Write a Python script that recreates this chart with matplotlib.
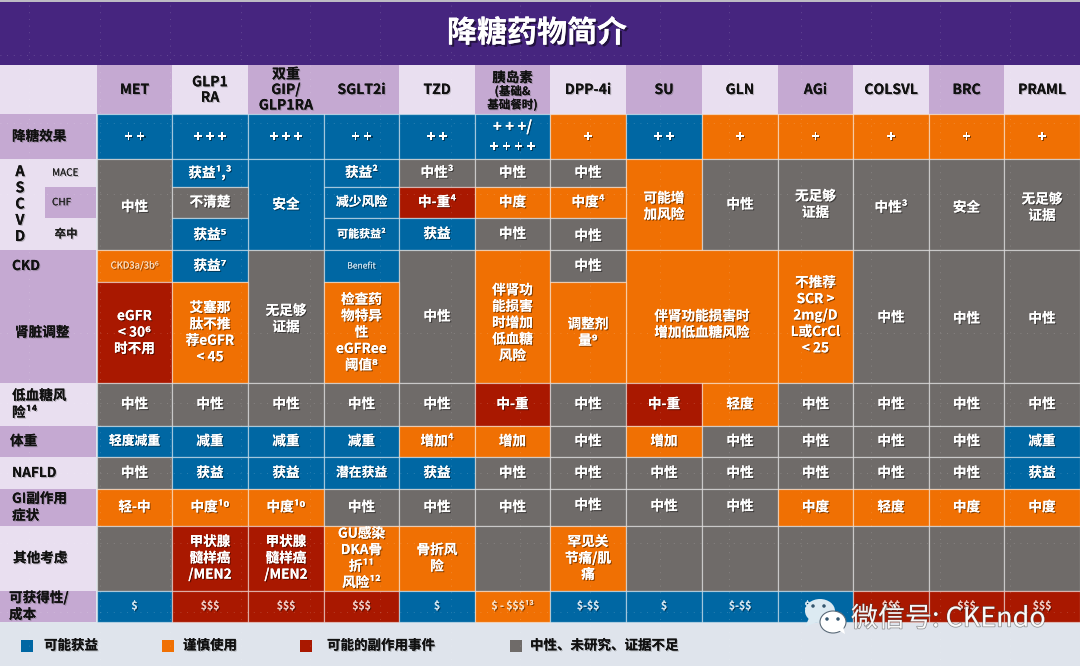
import matplotlib
matplotlib.use("Agg")
import matplotlib.pyplot as plt
import matplotlib.patheffects as pe
from matplotlib.patches import Rectangle, Ellipse, Polygon

FONT = ['Noto Sans CJK SC', 'DejaVu Sans']
plt.rcParams['font.family'] = FONT

TITLE = "降糖药物简介"
DRUGS = ["MET", "GLP1\nRA", "双重\nGIP/\nGLP1RA", "SGLT2i", "TZD", "胰岛素\n(基础&\n基础餐时)", "DPP-4i",
         "SU", "GLN", "AGi", "COLSVL", "BRC", "PRAML"]
DRUG_SHADE = "PLPPLPLPLPLPL"

ROW_LABELS = ["降糖效果", "MACE", "CHF", "卒中", "CKD", "肾脏调整", "低血糖风\n险¹⁴", "体重", "NAFLD",
              "GI副作用\n症状", "其他考虑", "可获得性/\n成本"]
ROW_SHADE = "PLPLPPLPLPLP"
GROUP_LABEL = "A\nS\nC\nV\nD"

# None = cell covered by a merged cell
efficacy_text = ["+ +", "+ + +", "+ + +", "+ +", "+ +", "+ + +/\n+ + + +", "+", "+ +", "+", "+", "+", "+", "+"]
efficacy_kind = "BBBBBBOBOOOOO"
mace_text = ["中性", "获益¹,³", "安全", "获益²", "中性³", "中性", "中性", "可能增\n加风险", "中性", "无足够\n证据", "中性³", "安全", "无足够\n证据"]
mace_kind = "GBBBGGGOGGGGG"
chf_text = [None, "不清楚", None, "减少风险", "中-重⁴", "中度", "中度⁴", None, None, None, None, None, None]
chf_kind = "GGBBROOOGGGGG"
stroke_text = [None, "获益⁵", None, "可能获益²", "获益", "中性", "中性", None, None, None, None, None, None]
stroke_kind = "GBBBBGGOGGGGG"
ckd_text = ["CKD3a/3b⁶", "获益⁷", "无足够\n证据", "Benefit", "中性", "伴肾功\n能损害\n时增加\n低血糖\n风险", "中性",
            "伴肾功能损害时\n增加低血糖风险", None, "不推荐\nSCR >\n2mg/D\nL或CrCl\n< 25", "中性", "中性", "中性"]
ckd_kind = "OBGBGOGOOOGGG"
renal_text = ["eGFR\n< 30⁶\n时不用", "艾塞那\n肽不推\n荐eGFR\n< 45", None, "检查药\n物特异\n性\neGFRee\n阈值⁸", None, None, "调整剂\n量⁹",
              None, None, None, None, None, None]
renal_kind = "ROGOGOOOOOGGG"
hypo_text = ["中性", "中性", "中性", "中性", "中性", "中-重", "中性", "中-重", "轻度", "中性", "中性", "中性", "中性"]
hypo_kind = "GGGGGRGROGGGG"
weight_text = ["轻度减重", "减重", "减重", "减重", "增加⁴", "增加", "中性", "增加", "中性", "中性", "中性", "中性", "减重"]
weight_kind = "BBBBOOGOGGGGB"
nafld_text = ["中性", "获益", "获益", "潜在获益", "获益", "中性", "中性", "中性", "中性", "中性", "中性", "中性", "获益"]
nafld_kind = "GBBBBGGGGGGGB"
gi_text = ["轻-中", "中度¹⁰", "中度¹⁰", "中性", "中性", "中性", "中性", "中性", "中性", "中度", "轻度", "中度", "中度"]
gi_kind = "OOOGGGGGGOOOO"
other_text = ["", "甲状腺\n髓样癌\n/MEN2", "甲状腺\n髓样癌\n/MEN2", "GU感染\nDKA骨\n折¹¹\n风险¹²", "骨折风\n险", "", "罕见关\n节痛/肌\n痛",
              "", "", "", "", "", ""]
other_kind = "GRROOGOGGGGGG"
cost_text = ["$", "$$$", "$$$", "$$$", "$", "$ - $$$¹³", "$-$$", "$", "$-$$", "$-$$", "$$$", "$$$", "$$$"]
cost_kind = "BRRRBOBBBBRRR"

ROW_TEXT = [efficacy_text, mace_text, chf_text, stroke_text, ckd_text, renal_text, hypo_text,
            weight_text, nafld_text, gi_text, other_text, cost_text]
ROW_KIND = [efficacy_kind, mace_kind, chf_kind, stroke_kind, ckd_kind, renal_kind, hypo_kind,
            weight_kind, nafld_kind, gi_kind, other_kind, cost_kind]
# (row, col, rowspan, colspan)
MERGES = [(1, 0, 3, 1), (1, 2, 3, 1), (1, 7, 3, 1), (1, 8, 3, 1), (1, 9, 3, 1), (1, 10, 3, 1), (1, 11, 3, 1), (1, 12, 3, 1),
          (4, 2, 2, 1), (4, 4, 2, 1), (4, 5, 2, 1), (4, 7, 2, 2), (4, 9, 2, 1), (4, 10, 2, 1), (4, 11, 2, 1), (4, 12, 2, 1)]

LEGEND = [("B", "可能获益"), ("O", "谨慎使用"), ("R", "可能的副作用事件"), ("G", "中性、未研究、证据不足")]
WATERMARK = "微信号: CKEndo"

# ---- style / layout ----
COL = dict(B="#0067A3", O="#F07003", R="#A91800", G="#6F6B69", P="#C5A9D2", L="#E9DFF0")
X = [97, 172, 248, 324, 399, 475, 550, 626, 702, 778, 853, 929, 1004, 1080]
Y = [114, 159, 186.5, 218, 250, 282, 383, 425.5, 457, 489, 525.5, 591, 621.5]
SUB_X = 45
GRID = (1, 1, 1, 0.45)
GUIDE_X = [29, 100, 170, 241, 310, 380, 451, 520, 590, 660, 729, 801, 871, 940, 1010]
GUIDE_Y = [55, 123, 194, 333, 403, 473, 543, 612]
SMALL = {"CKD3a/3b⁶": (9.5, "normal", "#F8DCC0"), "Benefit": (8.5, "normal", "#CFE3F0"), "可能获益²": (11, "bold", "white"),
         "减少风险": (12.8, "bold", "white"), "潜在获益": (12.8, "bold", "white"), "轻度减重": (12.8, "bold", "white"),
         "$": (10.5, "bold", "#CFE3F0"), "$-$$": (10.5, "bold", "#CFE3F0"), "$$$": (10.5, "bold", "#F0C8C0"),
         "$ - $$$¹³": (10.5, "bold", "#F8DCC0")}
PLUS_PX = 15
LINE_H = {"+ + +/\n+ + + +": 20}
# vertical nudges of text in a cell (row, col): dy
NUDGE = {(1, 0): 2.5, (1, 7): 2, (1, 10): 3, (1, 11): 3, (1, 12): 3, (4, 2): 2.5, (4, 5): 6.5, (4, 7): 8,
         (4, 9): -1, (4, 10): 1, (4, 11): 2, (4, 12): 2, (3, 1): 1, (3, 6): 2, (9, 6): -2, (9, 7): -1, (9, 8): -1}
SHADOW = [pe.withSimplePatchShadow(offset=(0.8, -0.8), shadow_rgbFace="k", alpha=0.45), pe.Normal()]
SHADOW_DK = [pe.withSimplePatchShadow(offset=(0.8, -0.8), shadow_rgbFace="#555555", alpha=0.35), pe.Normal()]

fig = plt.figure(figsize=(10.8, 6.66), dpi=100, facecolor="#DFE4EC")
ax = fig.add_axes([0, 0, 1, 1])
ax.set_xlim(0, 1080)
ax.set_ylim(666, 0)
ax.axis("off")


def pt(px):
    return px * 0.72


def rect(x0, y0, x1, y1, color, edge=True, z=1):
    ax.add_patch(Rectangle((x0, y0), x1 - x0, y1 - y0, facecolor=color,
                           edgecolor=GRID if edge else "none", linewidth=0.9, zorder=z))


def lines(x, yc, text, px, color="white", weight="bold", lh=None, sizes=None, fx=SHADOW, ha="center"):
    parts = text.split("\n")
    lh = lh or px * 1.3
    y0 = yc - lh * (len(parts) - 1) / 2
    for i, s in enumerate(parts):
        size = sizes[i] if sizes else px
        ax.text(x, y0 + i * lh, s, ha=ha, va="center", fontsize=pt(size), color=color, fontweight=weight,
                family=FONT, path_effects=fx, zorder=5, parse_math=False)


# title
rect(0, 0, 1080, 2, "#BDBBC4", edge=False)
rect(0, 2, 1080, 65, "#46257F", edge=False)
ax.text(537, 33, TITLE, ha="center", va="center", fontsize=pt(30), color="white", fontweight="bold", family=FONT,
        path_effects=[pe.withSimplePatchShadow(offset=(1.5, -1.5), shadow_rgbFace="k", alpha=0.5), pe.Normal()], zorder=5)

# header row
rect(0, 65, X[0], Y[0], COL["L"], edge=False)
for c, name in enumerate(DRUGS):
    rect(X[c], 65, X[c + 1], Y[0], COL[DRUG_SHADE[c]], edge=False)
    cx = (X[c] + X[c + 1]) / 2
    if "基础" in name:
        lines(cx, 91.5, name, 13, color="#111111", lh=13.5, sizes=[13.5, 11.5, 11.5], fx=SHADOW_DK)
    else:
        lines(cx, 90, name, 14, color="#111111", lh=15.5, fx=SHADOW_DK)

# row labels
for r, label in enumerate(ROW_LABELS):
    y0, y1 = Y[r], Y[r + 1]
    if label in ("MACE", "CHF"):
        rect(SUB_X, y0, X[0] - 1, y1, COL[ROW_SHADE[r]], edge=False)
        lines(52, (y0 + y1) / 2, label, 10, color="#222222", weight="normal", fx=SHADOW_DK, ha="left")
    elif label == "卒中":
        rect(SUB_X, y0, X[0] - 1, y1, COL[ROW_SHADE[r]], edge=False)
        lines(66, (y0 + y1) / 2, label, 11.5, color="#222222", fx=SHADOW_DK)
    else:
        rect(0, y0, X[0] - 1, y1, COL[ROW_SHADE[r]], edge=False)
        left = {"体重": 10, "肾脏调整": 15, "其他考虑": 13, "可获得性/\n成本": 9}.get(label, 12)
        lines(left, (y0 + y1) / 2, label, 13.6, color="#111111", lh=17, fx=SHADOW_DK, ha="left")
rect(0, Y[1], SUB_X, Y[4], COL["L"], edge=False)
lines(20, (Y[1] + Y[4]) / 2, GROUP_LABEL, 14.5, color="#111111", lh=16.2, fx=SHADOW_DK)

# body cells
spans = {(r, c): (rs, cs) for r, c, rs, cs in MERGES}
for r, (texts, kinds) in enumerate(zip(ROW_TEXT, ROW_KIND)):
    for c, (t, k) in enumerate(zip(texts, kinds)):
        if t is None:
            continue
        rs, cs = spans.get((r, c), (1, 1))
        x0, x1, y0, y1 = X[c], X[c + cs], Y[r], Y[r + rs]
        rect(x0, y0, x1, y1, COL[k])
        px, w, col = SMALL.get(t, (PLUS_PX if "+" in t else 13.6, "bold", "white"))
        lines((x0 + x1) / 2, (y0 + y1) / 2 + NUDGE.get((r, c), 0), t, px, color=col, weight=w, lh=LINE_H.get(t, 16.4))

# faint guide dots across the slide
for gx in GUIDE_X:
    ax.axvline(gx, color="white", linewidth=0.6, linestyle=(0, (1, 7)), alpha=0.22, zorder=4)
for gy in GUIDE_Y:
    ax.axhline(gy, color="white", linewidth=0.6, linestyle=(0, (1, 7)), alpha=0.22, zorder=4)

# legend
for (k, label), sx, tx in zip(LEGEND, (21, 162, 300, 510), (44, 183, 327, 530)):
    rect(sx, 640, sx + 12, 652, COL[k], edge=False)
    lines(tx, 645.5, label, 13.5, color="#111111", fx=SHADOW_DK, ha="left")

# watermark
ax.add_patch(Ellipse((820, 611), 30, 24, facecolor="#DCEAF2", edgecolor="none", zorder=6))
ax.add_patch(Polygon([(809, 618), (805, 627), (817, 622)], facecolor="#DCEAF2", edgecolor="none", zorder=6))
ax.add_patch(Ellipse((833, 622), 26, 22, facecolor="white", edgecolor="#5A6A78", linewidth=0.8, zorder=7))
ax.add_patch(Polygon([(838, 630), (845, 634), (843, 626)], facecolor="white", edgecolor="none", zorder=7))
for ex, ey, z in [(813, 606, 8), (824, 606, 8), (827, 619, 8), (838, 619, 8)]:
    ax.add_patch(Ellipse((ex, ey), 3.5, 3.5, facecolor="#34566E", edgecolor="none", zorder=z))
ax.text(851, 619, WATERMARK, ha="left", va="center", fontsize=pt(27), color=(1, 1, 1, 0.9), family=FONT,
        path_effects=[pe.withStroke(linewidth=1.0, foreground=(0.25, 0.25, 0.25, 0.55))], zorder=9)

fig.savefig("out.png", dpi=100, facecolor=fig.get_facecolor())
